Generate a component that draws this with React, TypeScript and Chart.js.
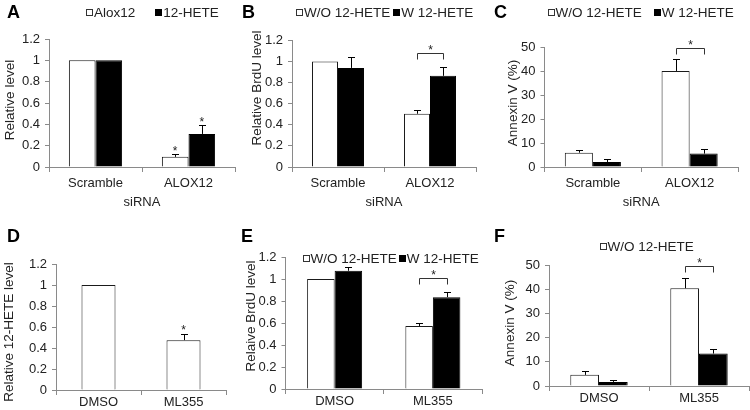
import React, { useEffect, useRef } from 'react';
import Chart from 'chart.js/auto';

const FONT = '"Liberation Sans", Arial, Helvetica, sans-serif';
const TEXT = '#222';
const AXIS = '#8a8a8a';

// ---------- data ----------
const catsSi = ['Scramble', 'ALOX12'];
const catsDrug = ['DMSO', 'ML355'];
const namesA = ['Alox12', '12-HETE'];
const namesWO = ['W/O 12-HETE', 'W 12-HETE'];
const ticksRel = ['0', '0.2', '0.4', '0.6', '0.8', '1', '1.2'];
const ticksPct = ['0', '10', '20', '30', '40', '50'];

// A
const aloxA = [1, 0.095];
const aloxErrA = [0, 0.025];
const heteA = [1, 0.31];
const heteErrA = [0, 0.08];
// B
const woB = [1, 0.505];
const woErrB = [0, 0.033];
const wB = [0.94, 0.865];
const wErrB = [0.1, 0.085];
// C
const woC = [6.0, 40.2];
const woErrC = [1.0, 5.1];
const wC = [2.1, 5.6];
const wErrC = [1.1, 2.1];
// D
const heteD = [1, 0.475];
const heteErrD = [0, 0.06];
// E
const woE = [1, 0.573];
const woErrE = [0, 0.03];
const wE = [1.075, 0.835];
const wErrE = [0.035, 0.045];
// F
const woF = [4.6, 40.4];
const woErrF = [1.6, 4.1];
const wF = [1.7, 13.4];
const wErrF = [0.8, 1.8];

// significance marks: [datasetIndex, categoryIndex]
const starsA = [[0, 1], [1, 1]];
const starsD = [[0, 1]];
// brackets: category index and bracket level (value units)
const bracketB = [{ i: 1, v: 1.08 }];
const bracketC = [{ i: 1, v: 49.6 }];
const bracketE = [{ i: 1, v: 1.01 }];
const bracketF = [{ i: 1, v: 49.6 }];

type Series = { name: string; data: number[]; err: number[]; fill: boolean };

type Panel = {
  letter: string;
  letterPos: [number, number];
  canvas: { x: number; y: number; w: number; h: number };
  plot: { l: number; t: number; r: number; b: number };
  cats: string[];
  series: Series[];
  yMax: number;
  yStep: number;
  yLabels: string[];
  yTitle: string;
  yTitlePos: [number, number];
  xTitle?: string;
  xTitlePad?: number;
  xLabelPad: number;
  catPct: number;
  legend: { x: number; y: number; gap: number; count: number };
  stars?: number[][];
  brackets?: { i: number; v: number }[];
};

const mk = (name: string, data: number[], err: number[], fill: boolean): Series => ({ name, data, err, fill });

const panels: Panel[] = [
  {
    letter: 'A', letterPos: [7, 13],
    canvas: { x: 0, y: 0, w: 245, h: 212 },
    plot: { l: 49, t: 39, r: 235, b: 167 },
    cats: catsSi,
    series: [mk(namesA[0], aloxA, aloxErrA, false), mk(namesA[1], heteA, heteErrA, true)],
    yMax: 1.2, yStep: 0.2, yLabels: ticksRel,
    yTitle: 'Relative level', yTitlePos: [10, 100],
    xTitle: 'siRNA', xTitlePad: 2.2, xLabelPad: 3.2, catPct: 0.572,
    legend: { x: 86, y: 13, gap: 20, count: 2 },
    stars: starsA,
  },
  {
    letter: 'B', letterPos: [242, 13],
    canvas: { x: 240, y: 0, w: 245, h: 212 },
    plot: { l: 292, t: 40.5, r: 476, b: 167 },
    cats: catsSi,
    series: [mk(namesWO[0], woB, woErrB, false), mk(namesWO[1], wB, wErrB, true)],
    yMax: 1.2, yStep: 0.2, yLabels: ticksRel,
    yTitle: 'Relative BrdU level', yTitlePos: [257, 88],
    xTitle: 'siRNA', xTitlePad: 2.2, xLabelPad: 3.2, catPct: 0.565,
    legend: { x: 296, y: 13.3, gap: 3, count: 2 },
    brackets: bracketB,
  },
  {
    letter: 'C', letterPos: [494, 13],
    canvas: { x: 492, y: 0, w: 258, h: 212 },
    plot: { l: 544.5, t: 47.5, r: 738, b: 167 },
    cats: catsSi,
    series: [mk(namesWO[0], woC, woErrC, false), mk(namesWO[1], wC, wErrC, true)],
    yMax: 50, yStep: 10, yLabels: ticksPct,
    yTitle: 'Annexin V (%)', yTitlePos: [513.5, 103],
    xTitle: 'siRNA', xTitlePad: 2.2, xLabelPad: 3.2, catPct: 0.58,
    legend: { x: 547.5, y: 13.3, gap: 12, count: 2 },
    brackets: bracketC,
  },
  {
    letter: 'D', letterPos: [7, 237],
    canvas: { x: 0, y: 212, w: 240, h: 198 },
    plot: { l: 56, t: 264, r: 226, b: 390 },
    cats: catsDrug,
    series: [mk('12-HETE', heteD, heteErrD, false)],
    yMax: 1.2, yStep: 0.2, yLabels: ticksRel,
    yTitle: 'Relative 12-HETE level', yTitlePos: [9, 332],
    xLabelPad: -0.5, catPct: 0.4,
    legend: { x: 0, y: 0, gap: 0, count: 0 },
    stars: starsD,
  },
  {
    letter: 'E', letterPos: [241, 237],
    canvas: { x: 240, y: 212, w: 250, h: 198 },
    plot: { l: 285.5, t: 257, r: 482, b: 389 },
    cats: catsDrug,
    series: [mk(namesWO[0], woE, woErrE, false), mk(namesWO[1], wE, wErrE, true)],
    yMax: 1.2, yStep: 0.2, yLabels: ticksRel,
    yTitle: 'Relaive BrdU level', yTitlePos: [251, 316],
    xLabelPad: 0, catPct: 0.56,
    legend: { x: 302.5, y: 259.3, gap: 2, count: 2 },
    brackets: bracketE,
  },
  {
    letter: 'F', letterPos: [494, 237],
    canvas: { x: 492, y: 212, w: 258, h: 198 },
    plot: { l: 549, t: 265, r: 749, b: 386 },
    cats: catsDrug,
    series: [mk(namesWO[0], woF, woErrF, false), mk(namesWO[1], wF, wErrF, true)],
    yMax: 50, yStep: 10, yLabels: ticksPct,
    yTitle: 'Annexin V (%)', yTitlePos: [510, 323],
    xLabelPad: 0, catPct: 0.574,
    legend: { x: 599.5, y: 247.3, gap: 2, count: 1 },
    brackets: bracketF,
  },
];

function drawStar(ctx: CanvasRenderingContext2D, x: number, centerY: number) {
  ctx.save();
  ctx.fillStyle = TEXT;
  ctx.font = `12px ${FONT}`;
  ctx.textAlign = 'center';
  ctx.textBaseline = 'alphabetic';
  ctx.fillText('*', x, centerY + 6.9);
  ctx.restore();
}

function decoPlugin(p: Panel) {
  const ox = p.canvas.x;
  const oy = p.canvas.y;
  return {
    id: 'deco',
    afterDatasetsDraw(chart: any) {
      const ctx: CanvasRenderingContext2D = chart.ctx;
      const ys = chart.scales.y;
      ctx.save();
      ctx.strokeStyle = '#000';
      ctx.lineWidth = 1;
      p.series.forEach((s, d) => {
        const meta = chart.getDatasetMeta(d);
        s.err.forEach((e, i) => {
          if (!e) return;
          const bar = meta.data[i];
          const x = Math.round(bar.x) + 0.5;
          const y0 = ys.getPixelForValue(s.data[i]);
          const y1 = Math.round(ys.getPixelForValue(s.data[i] + e)) + 0.5;
          ctx.beginPath();
          ctx.moveTo(x, y0);
          ctx.lineTo(x, y1);
          ctx.moveTo(x - 3.5, y1);
          ctx.lineTo(x + 3.5, y1);
          ctx.stroke();
        });
      });
      (p.stars || []).forEach(([d, i]) => {
        const s = p.series[d];
        const bar = chart.getDatasetMeta(d).data[i];
        const top = ys.getPixelForValue(s.data[i] + s.err[i]);
        drawStar(ctx, bar.x, top - 6.5);
      });
      ctx.strokeStyle = '#333';
      (p.brackets || []).forEach((b) => {
        const b0 = chart.getDatasetMeta(0).data[b.i];
        const b1 = chart.getDatasetMeta(1).data[b.i];
        const y = Math.round(ys.getPixelForValue(b.v)) + 0.5;
        const x0 = Math.round(b0.x) + 0.5;
        const x1 = Math.round(b1.x) + 0.5;
        ctx.beginPath();
        ctx.moveTo(x0, y + 6);
        ctx.lineTo(x0, y);
        ctx.lineTo(x1, y);
        ctx.lineTo(x1, y + 6);
        ctx.stroke();
        drawStar(ctx, (x0 + x1) / 2, y - 6);
      });
      ctx.restore();
    },
    afterDraw(chart: any) {
      const ctx: CanvasRenderingContext2D = chart.ctx;
      ctx.save();
      // panel letter
      ctx.fillStyle = '#000';
      ctx.font = `bold 18px ${FONT}`;
      ctx.textAlign = 'left';
      ctx.textBaseline = 'middle';
      ctx.fillText(p.letter, p.letterPos[0] - ox, p.letterPos[1] - oy);
      // y-axis title
      ctx.save();
      ctx.translate(p.yTitlePos[0] - ox, p.yTitlePos[1] - oy);
      ctx.rotate(-Math.PI / 2);
      ctx.fillStyle = TEXT;
      ctx.font = `13.5px ${FONT}`;
      ctx.textAlign = 'center';
      ctx.textBaseline = 'middle';
      ctx.fillText(p.yTitle, 0, 0);
      ctx.restore();
      // legend
      let x = p.legend.x - ox;
      const y = p.legend.y - oy;
      ctx.font = `13.5px ${FONT}`;
      ctx.textAlign = 'left';
      ctx.textBaseline = 'middle';
      for (let k = 0; k < p.legend.count; k++) {
        const s = p.series[k];
        const bx = Math.round(x);
        const by = Math.round(y - 4);
        if (s.fill) {
          ctx.fillStyle = '#000';
          ctx.fillRect(bx, by, 7, 7);
        } else {
          ctx.fillStyle = '#fff';
          ctx.fillRect(bx, by, 7, 7);
          ctx.strokeStyle = '#333';
          ctx.lineWidth = 1;
          ctx.strokeRect(bx + 0.5, by + 0.5, 6, 6);
        }
        ctx.fillStyle = TEXT;
        ctx.fillText(s.name, x + 8, y);
        x += 8 + ctx.measureText(s.name).width + p.legend.gap;
      }
      ctx.restore();
    },
  };
}

function buildConfig(p: Panel): any {
  const c = p.canvas;
  const padTop = p.plot.t - c.y;
  const yWidth = p.plot.l - c.x;
  const padRight = c.x + c.w - p.plot.r;
  const xHeight = c.y + c.h - p.plot.b;
  return {
    type: 'bar',
    data: {
      labels: p.cats,
      datasets: p.series.map((s) => ({
        label: s.name,
        data: s.data,
        backgroundColor: s.fill ? '#000' : '#fff',
        borderColor: s.fill ? '#000' : '#1a1a1a',
        borderWidth: 1,
        categoryPercentage: p.catPct,
        barPercentage: 1,
      })),
    },
    options: {
      responsive: false,
      maintainAspectRatio: false,
      animation: false,
      devicePixelRatio: 1,
      events: [],
      layout: { padding: { left: 0, top: padTop, right: padRight, bottom: 0 } },
      plugins: { legend: { display: false }, tooltip: { enabled: false }, title: { display: false } },
      scales: {
        x: {
          type: 'category',
          offset: true,
          afterFit: (s: any) => { s.height = xHeight; },
          grid: { display: true, offset: true, drawOnChartArea: false, drawTicks: true, tickLength: 5, color: AXIS, lineWidth: 1 },
          border: { display: true, color: AXIS, width: 1 },
          ticks: { color: TEXT, font: { family: FONT, size: 13 }, padding: p.xLabelPad, maxRotation: 0, autoSkip: false },
          title: p.xTitle
            ? { display: true, text: p.xTitle, color: TEXT, font: { family: FONT, size: 13 }, padding: { top: 0, bottom: p.xTitlePad } }
            : { display: false },
        },
        y: {
          type: 'linear',
          min: 0,
          max: p.yMax,
          afterFit: (s: any) => { s.width = yWidth; },
          grid: { display: true, drawOnChartArea: false, drawTicks: true, tickLength: 4, color: AXIS, lineWidth: 1 },
          border: { display: true, color: AXIS, width: 1 },
          ticks: {
            stepSize: p.yStep,
            color: TEXT,
            font: { family: FONT, size: 13 },
            padding: 5,
            callback: (v: number) => p.yLabels[Math.round(v / p.yStep)],
          },
          title: { display: false },
        },
      },
    },
    plugins: [decoPlugin(p)],
  };
}

function PanelChart({ p }: { p: Panel }) {
  const ref = useRef<HTMLCanvasElement>(null);
  useEffect(() => {
    const chart = new Chart(ref.current as HTMLCanvasElement, buildConfig(p));
    return () => chart.destroy();
  }, [p]);
  return (
    <canvas
      ref={ref}
      width={p.canvas.w}
      height={p.canvas.h}
      style={{ position: 'absolute', left: p.canvas.x, top: p.canvas.y, width: p.canvas.w, height: p.canvas.h }}
    />
  );
}

export default function App() {
  return (
    <div style={{ position: 'absolute', left: 0, top: 0, width: 750, height: 410, background: '#fff', overflow: 'hidden' }}>
      {panels.map((p) => (
        <PanelChart key={p.letter} p={p} />
      ))}
    </div>
  );
}
